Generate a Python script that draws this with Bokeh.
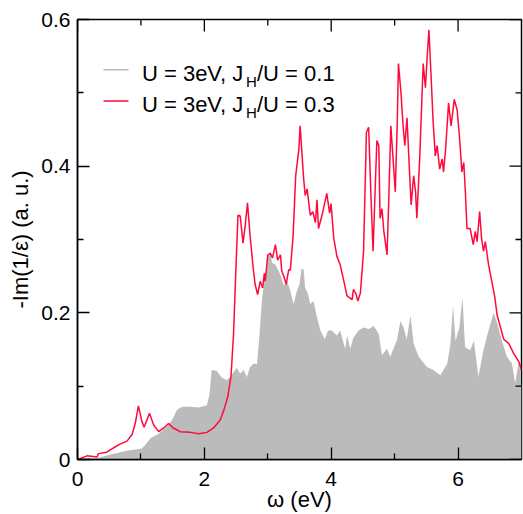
from bokeh.plotting import figure
from bokeh.models import Range1d, FixedTicker, CustomJSTickFormatter, Label
from bokeh.embed import file_html
from bokeh.resources import INLINE

# ---- data ----
gray_x = [0, 0.31, 0.57, 0.78, 1.015, 1.07, 1.15, 1.28, 1.41, 1.49, 1.57, 1.65, 1.78, 1.91, 2.04,
          2.08, 2.115, 2.19, 2.27, 2.35, 2.40, 2.46, 2.51, 2.565, 2.62, 2.67, 2.72, 2.78, 2.83,
          2.87, 2.91, 2.96, 3.01, 3.04, 3.066, 3.12, 3.20, 3.25, 3.30, 3.355, 3.406, 3.46, 3.50,
          3.53, 3.565, 3.59, 3.63, 3.67, 3.72, 3.776, 3.83, 3.90, 3.95, 4.01, 4.09, 4.14, 4.22,
          4.25, 4.30, 4.35, 4.43, 4.51, 4.59, 4.67, 4.75, 4.80, 4.88, 4.93, 5.04, 5.09, 5.14, 5.19,
          5.25, 5.30, 5.38, 5.51, 5.61, 5.72, 5.83, 5.88, 5.92, 5.96, 6.02, 6.07, 6.11, 6.19, 6.25,
          6.32, 6.40, 6.48, 6.56, 6.62, 6.69, 6.77, 6.85, 6.90, 6.96, 7.0]
gray_y = [0, 0.002, 0.008, 0.012, 0.015, 0.02, 0.029, 0.035, 0.045, 0.054, 0.068, 0.072, 0.072,
          0.071, 0.074, 0.088, 0.122, 0.121, 0.112, 0.108, 0.112, 0.119, 0.125, 0.117, 0.122,
          0.112, 0.126, 0.131, 0.13, 0.171, 0.22, 0.252, 0.279, 0.284, 0.268, 0.266, 0.252, 0.237,
          0.244, 0.23, 0.212, 0.23, 0.239, 0.26, 0.259, 0.234, 0.227, 0.212, 0.216, 0.194, 0.176,
          0.164, 0.176, 0.176, 0.169, 0.176, 0.151, 0.169, 0.151, 0.166, 0.176, 0.18, 0.178, 0.182,
          0.171, 0.142, 0.151, 0.14, 0.164, 0.189, 0.18, 0.164, 0.196, 0.158, 0.14, 0.126, 0.122,
          0.115, 0.131, 0.158, 0.21, 0.162, 0.18, 0.221, 0.153, 0.149, 0.162, 0.113, 0.149, 0.176,
          0.2, 0.185, 0.162, 0.14, 0.131, 0.104, 0.135, 0.1]

red_x = [0, 0.15, 0.31, 0.33, 0.46, 0.57, 0.67, 0.78, 0.86, 0.91, 0.96, 1.015, 1.05, 1.135, 1.2,
         1.28, 1.36, 1.435, 1.51, 1.62, 1.78, 1.91, 2.04, 2.145, 2.25, 2.31, 2.37, 2.42, 2.46,
         2.50, 2.53, 2.565, 2.61, 2.645, 2.68, 2.72, 2.77, 2.80, 2.84, 2.88, 2.92, 2.945, 2.96,
         3.0, 3.04, 3.075, 3.12, 3.155, 3.20, 3.22, 3.26, 3.29, 3.33, 3.355, 3.40, 3.44, 3.49,
         3.51, 3.565, 3.59, 3.62, 3.67, 3.71, 3.75, 3.776, 3.80, 3.855, 3.93, 3.975, 3.997, 4.04,
         4.09, 4.14, 4.20, 4.25, 4.33, 4.35, 4.39, 4.42, 4.46, 4.51, 4.555, 4.59, 4.63, 4.66,
         4.695, 4.72, 4.75, 4.77, 4.80, 4.83, 4.88, 4.905, 4.94, 4.975, 5.01, 5.04, 5.06, 5.10,
         5.13, 5.16, 5.195, 5.22, 5.26, 5.30, 5.33, 5.35, 5.395, 5.45, 5.485, 5.51, 5.54, 5.575,
         5.605, 5.64, 5.67, 5.71, 5.75, 5.77, 5.80, 5.85, 5.89, 5.94, 5.985, 6.025, 6.06, 6.09,
         6.115, 6.14, 6.19, 6.24, 6.27, 6.30, 6.34, 6.37, 6.40, 6.43, 6.48, 6.54, 6.58, 6.615,
         6.72, 6.80, 6.88, 6.96, 7.0]
red_y = [0, 0.005, 0.0035, 0.008, 0.01, 0.016, 0.021, 0.025, 0.034, 0.049, 0.073, 0.052, 0.044,
         0.063, 0.047, 0.038, 0.043, 0.049, 0.043, 0.038, 0.037, 0.035, 0.037, 0.043, 0.054,
         0.068, 0.086, 0.113, 0.171, 0.266, 0.333, 0.332, 0.295, 0.32, 0.35, 0.306, 0.261, 0.239,
         0.225, 0.243, 0.234, 0.254, 0.243, 0.279, 0.281, 0.275, 0.293, 0.272, 0.279, 0.257,
         0.248, 0.239, 0.259, 0.258, 0.306, 0.387, 0.423, 0.455, 0.383, 0.36, 0.369, 0.333,
         0.338, 0.323, 0.354, 0.315, 0.333, 0.363, 0.336, 0.349, 0.302, 0.277, 0.266, 0.243,
         0.223, 0.218, 0.232, 0.226, 0.216, 0.227, 0.284, 0.446, 0.453, 0.351, 0.284, 0.374,
         0.435, 0.428, 0.329, 0.342, 0.311, 0.279, 0.347, 0.455, 0.41, 0.365, 0.455, 0.54, 0.5,
         0.459, 0.428, 0.466, 0.419, 0.347, 0.387, 0.365, 0.329, 0.41, 0.54, 0.507, 0.545, 0.586,
         0.522, 0.464, 0.414, 0.428, 0.396, 0.41, 0.392, 0.419, 0.486, 0.455, 0.491, 0.477, 0.437,
         0.392, 0.405, 0.365, 0.315, 0.315, 0.293, 0.311, 0.297, 0.338, 0.302, 0.284, 0.297,
         0.266, 0.239, 0.221, 0.197, 0.164, 0.158, 0.144, 0.133, 0.122]

x_ticks = [0, 2, 4, 6]
x_minor = [1, 3, 5]
y_ticks = [0, 0.2, 0.4, 0.6]
y_minor = [0.1, 0.3, 0.5]
X_MAX, Y_MAX = 7, 0.6

label_gray = ["U = 3eV, J", "H", "/U = 0.1"]
label_red = ["U = 3eV, J", "H", "/U = 0.3"]

GRAY = "#bbbbbb"
RED = "#ff0a3c"
FONT = "Liberation Sans"

p = figure(width=523, height=514, x_range=Range1d(0, X_MAX), y_range=Range1d(0, Y_MAX),
           output_backend="svg", toolbar_location=None,
           min_border_left=77, min_border_right=2, min_border_top=19, min_border_bottom=51)
p.xgrid.visible = False
p.ygrid.visible = False
p.outline_line_color = "black"
p.outline_line_width = 1.5
p.background_fill_color = "white"

p.varea(x=gray_x, y1=0, y2=gray_y, fill_color=GRAY)
p.line(red_x, red_y, line_color=RED, line_width=1.5)

# mirrored inward ticks on the top and right frame edges (12 px major, 6 px minor)
PX_X = X_MAX / 444.0
PX_Y = Y_MAX / 444.0
for vals, length in [(x_ticks, 12), (x_minor, 6)]:
    n = len(vals)
    p.segment(x0=list(vals), y0=[Y_MAX] * n, x1=list(vals), y1=[Y_MAX - length * PX_Y] * n,
              line_color="black", line_width=1.3)
for vals, length in [(y_ticks, 12), (y_minor, 6)]:
    n = len(vals)
    p.segment(x0=[X_MAX] * n, y0=list(vals), x1=[X_MAX - length * PX_X] * n, y1=list(vals),
              line_color="black", line_width=1.3)

def style_axis(ax):
    ax.major_tick_in = 12
    ax.major_tick_out = 0
    ax.minor_tick_in = 6
    ax.minor_tick_out = 0
    ax.major_tick_line_color = "black"
    ax.minor_tick_line_color = "black"
    ax.major_tick_line_width = 1.3
    ax.minor_tick_line_width = 1.3
    ax.axis_line_color = "black"
    ax.axis_line_width = 1.5
    ax.major_label_text_font = FONT
    ax.major_label_text_font_size = "21px"
    ax.major_label_text_color = "black"
    ax.axis_label_text_font = FONT
    ax.axis_label_text_font_size = "22px"
    ax.axis_label_text_font_style = "normal"
    ax.axis_label_text_color = "black"

xa = p.xaxis[0]
xa.ticker = FixedTicker(ticks=x_ticks, minor_ticks=x_minor)
style_axis(xa)
xa.axis_label = "ω (eV)"
xa.major_label_text_line_height = 1.0
xa.axis_label_text_line_height = 1.0
xa.major_label_standoff = 12
xa.axis_label_standoff = -2

ya = p.yaxis[0]
ya.ticker = FixedTicker(ticks=y_ticks, minor_ticks=y_minor)
style_axis(ya)
ya.formatter = CustomJSTickFormatter(code="return tick == 0 ? '0' : tick.toFixed(1);")
ya.axis_label = "-Im(1/ε) (a. u.)"
ya.major_label_standoff = 7
ya.axis_label_standoff = 5

# ---- hand-made legend (subscript H) ----
p.segment(x0=[0.41, 0.41], y0=[0.5315, 0.4887], x1=[0.804, 0.804], y1=[0.5315, 0.4887],
          line_color=[GRAY, RED], line_width=1.5)

for labels, base_y, sub_y in [(label_gray, 0.526, 0.515), (label_red, 0.4842, 0.473)]:
    p.add_layout(Label(x=1.016, y=base_y, text=labels[0], text_font=FONT,
                       text_font_size="22px", text_baseline="alphabetic", text_color="black"))
    p.add_layout(Label(x=2.656, y=sub_y, text=labels[1], text_font=FONT,
                       text_font_size="15px", text_baseline="alphabetic", text_color="black"))
    p.add_layout(Label(x=2.83, y=base_y, text=labels[2], text_font=FONT,
                       text_font_size="22px", text_baseline="alphabetic", text_color="black"))

open("out.html", "w").write(file_html(p, INLINE))
